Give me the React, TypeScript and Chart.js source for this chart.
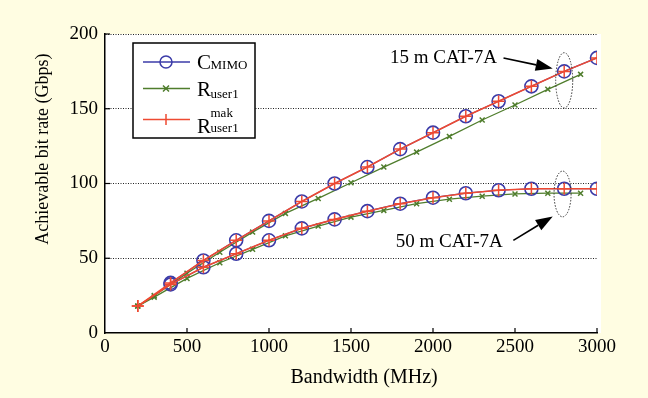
import React, { useEffect, useRef } from "react";
import { Chart, registerables } from "chart.js";

Chart.register(...registerables);

// ---- Data ----
const rmakBandwidth = [200, 400, 600, 800, 1000, 1200, 1400, 1600, 1800, 2000, 2200, 2400, 2600, 2800, 3000];
const rmak15 = [18, 33.5, 48.5, 62, 75, 88, 100, 111, 123, 134, 145, 155, 165, 175, 184];
const rmak50 = [18, 32.5, 44, 53, 62, 70, 76, 81.5, 86.5, 90.5, 93.5, 95.5, 96.5, 96.5, 96.5];

const cmimoBandwidth = [400, 600, 800, 1000, 1200, 1400, 1600, 1800, 2000, 2200, 2400, 2600, 2800, 3000];
const cmimo15 = [33.5, 48.5, 62, 75, 88, 100, 111, 123, 134, 145, 155, 165, 175, 184];
const cmimo50 = [32.5, 44, 53, 62, 70, 76, 81.5, 86.5, 90.5, 93.5, 95.5, 96.5, 96.5, 96.5];

const userBandwidth = [200, 300, 500, 700, 900, 1100, 1300, 1500, 1700, 1900, 2100, 2300, 2500, 2700, 2900];
const user15 = [18, 25, 40, 54, 67.5, 80, 90, 100.5, 111, 121, 131.5, 142.5, 152.5, 163, 173];
const user50 = [18, 24, 36.5, 47, 56, 65, 71.5, 77.5, 82, 86.5, 89.5, 91.5, 93, 93.5, 93.5];

const xTicks = [0, 500, 1000, 1500, 2000, 2500, 3000];
const yTicks = [0, 50, 100, 150, 200];

const xTitle = "Bandwidth (MHz)";
const yTitle = "Achievable bit rate (Gbps)";
const label15 = "15 m CAT-7A";
const label50 = "50 m CAT-7A";

const BLUE = "#3B3BA8";
const RED = "#EE4A32";
const GREEN = "#4F7D2C";
const BG = "#FFFDE2";

const pts = (xs: number[], ys: number[]) => xs.map((x, i) => ({ x, y: ys[i] }));

const SERIF = '"Liberation Serif", "Times New Roman", serif';

const bgPlugin = {
  id: "bgPlugin",
  beforeDraw(chart: any) {
    const { ctx, chartArea: a, width, height } = chart;
    ctx.save();
    ctx.fillStyle = BG;
    ctx.fillRect(0, 0, width, height);
    ctx.fillStyle = "#ffffff";
    ctx.fillRect(a.left, a.top, a.right - a.left + 4, a.bottom - a.top);
    ctx.restore();
  },
};

function arrow(ctx: any, x1: number, y1: number, x2: number, y2: number) {
  const ang = Math.atan2(y2 - y1, x2 - x1);
  const hl = 17;
  const hw = 6;
  const bx = x2 - hl * Math.cos(ang);
  const by = y2 - hl * Math.sin(ang);
  ctx.beginPath();
  ctx.moveTo(x1, y1);
  ctx.lineTo(bx, by);
  ctx.strokeStyle = "#000";
  ctx.lineWidth = 1.6;
  ctx.stroke();
  ctx.beginPath();
  ctx.moveTo(x2, y2);
  ctx.lineTo(bx + hw * Math.sin(ang), by - hw * Math.cos(ang));
  ctx.lineTo(bx - hw * Math.sin(ang), by + hw * Math.cos(ang));
  ctx.closePath();
  ctx.fillStyle = "#000";
  ctx.fill();
}

const overlayPlugin = {
  id: "overlayPlugin",
  afterDraw(chart: any) {
    const { ctx, chartArea: a } = chart;
    const xs = chart.scales.x;
    const ys = chart.scales.y;
    const X = (v: number) => xs.getPixelForValue(v);
    const Y = (v: number) => ys.getPixelForValue(v);
    ctx.save();

    // inward tick marks
    ctx.strokeStyle = "#000";
    ctx.lineWidth = 1.2;
    xTicks.forEach((t) => {
      if (t === 0) return;
      ctx.beginPath();
      ctx.moveTo(X(t), a.bottom);
      ctx.lineTo(X(t), a.bottom - 5);
      ctx.stroke();
    });
    yTicks.forEach((t) => {
      if (t === 0) return;
      ctx.beginPath();
      ctx.moveTo(a.left, Y(t));
      ctx.lineTo(a.left + 5, Y(t));
      ctx.stroke();
    });

    // ellipses
    ctx.setLineDash([1.5, 1.5]);
    ctx.strokeStyle = "#333";
    ctx.lineWidth = 1;
    const ell = (cx: number, cy: number, rx: number, ry: number) => {
      const px = X(cx);
      const py = Y(cy);
      const prx = X(cx + rx) - px;
      const pry = py - Y(cy + ry);
      ctx.beginPath();
      ctx.ellipse(px, py, prx, pry, 0, 0, Math.PI * 2);
      ctx.stroke();
    };
    ell(2800, 169, 52, 18.5);
    ell(2790, 93, 52, 15.3);
    ctx.setLineDash([]);

    // arrows and labels
    arrow(ctx, X(2430), Y(184), X(2730), Y(177));
    arrow(ctx, X(2490), Y(62), X(2730), Y(78));
    ctx.fillStyle = "#000";
    ctx.font = `19px ${SERIF}`;
    ctx.textAlign = "right";
    ctx.textBaseline = "middle";
    ctx.fillText(label15, X(2390), Y(184));
    ctx.fillText(label50, X(2425), Y(61));

    // axis titles
    ctx.textAlign = "center";
    ctx.textBaseline = "middle";
    ctx.font = `20px ${SERIF}`;
    ctx.fillText(xTitle, X(1580), 378);
    ctx.save();
    ctx.translate(43, Y(123));
    ctx.rotate(-Math.PI / 2);
    ctx.font = `18px ${SERIF}`;
    ctx.fillText(yTitle, 0, 0);
    ctx.restore();

    // legend
    const L = a.left + 28;
    const T = a.top + 9;
    ctx.fillStyle = "#fff";
    ctx.fillRect(L, T, 122, 95);
    ctx.strokeStyle = "#000";
    ctx.lineWidth = 1.5;
    ctx.strokeRect(L, T, 122, 95);
    const lx1 = L + 10;
    const lx2 = L + 57;
    const mx = L + 33;
    const tx = L + 64;
    const row = (ly: number, color: string) => {
      ctx.beginPath();
      ctx.moveTo(lx1, ly);
      ctx.lineTo(lx2, ly);
      ctx.strokeStyle = color;
      ctx.lineWidth = 1.5;
      ctx.stroke();
    };
    // row 1: C_MIMO
    let ly = T + 19;
    row(ly, BLUE);
    ctx.beginPath();
    ctx.arc(mx, ly, 6, 0, Math.PI * 2);
    ctx.strokeStyle = BLUE;
    ctx.stroke();
    // row 2: R_user1
    ly = T + 45.5;
    row(ly, GREEN);
    ctx.beginPath();
    ctx.moveTo(mx - 3, ly - 3);
    ctx.lineTo(mx + 3, ly + 3);
    ctx.moveTo(mx - 3, ly + 3);
    ctx.lineTo(mx + 3, ly - 3);
    ctx.strokeStyle = GREEN;
    ctx.stroke();
    // row 3: R^mak_user1
    ly = T + 76.5;
    row(ly, RED);
    ctx.beginPath();
    ctx.moveTo(mx, ly - 5.5);
    ctx.lineTo(mx, ly + 5.5);
    ctx.strokeStyle = RED;
    ctx.stroke();

    ctx.fillStyle = "#000";
    ctx.textAlign = "left";
    ctx.textBaseline = "alphabetic";
    const rich = (base: number, main: string, sub: string, subDy: number, sup?: string) => {
      ctx.font = `21px ${SERIF}`;
      ctx.fillText(main, tx, base);
      const w = ctx.measureText(main).width;
      ctx.font = `13px ${SERIF}`;
      ctx.fillText(sub, tx + w - 0.5, base + subDy);
      if (sup) ctx.fillText(sup, tx + w - 0.5, base - 16.5);
    };
    rich(T + 25.5, "C", "MIMO", 0);
    rich(T + 53, "R", "user1", 2);
    rich(T + 90, "R", "user1", -1, "mak");

    ctx.restore();
  },
};

export default function App() {
  const canvasRef = useRef<HTMLCanvasElement | null>(null);

  useEffect(() => {
    const canvas = canvasRef.current;
    if (!canvas) return;
    const mk = (label: string, data: any[], color: string, style: string, radius: number, bw: number, lw: number) => ({
      label,
      data,
      borderColor: color,
      backgroundColor: "rgba(0,0,0,0)",
      borderWidth: lw,
      pointStyle: style,
      pointRadius: radius,
      pointBorderColor: color,
      pointBackgroundColor: "rgba(0,0,0,0)",
      pointBorderWidth: bw,
      tension: 0,
      fill: false,
    });
    const chart = new Chart(canvas, {
      type: "line",
      data: {
        datasets: [
          mk("R mak 15", pts(rmakBandwidth, rmak15), RED, "cross", 6, 1.5, 1.6),
          mk("R mak 50", pts(rmakBandwidth, rmak50), RED, "cross", 6, 1.5, 1.6),
          mk("C MIMO 15", pts(cmimoBandwidth, cmimo15), BLUE, "circle", 6.5, 1.6, 1.2),
          mk("C MIMO 50", pts(cmimoBandwidth, cmimo50), BLUE, "circle", 6.5, 1.6, 1.2),
          mk("R user1 15", pts(userBandwidth, user15), GREEN, "crossRot", 3.5, 1.5, 1.3),
          mk("R user1 50", pts(userBandwidth, user50), GREEN, "crossRot", 3.5, 1.5, 1.3),
        ],
      },
      options: {
        responsive: false,
        animation: false,
        layout: { padding: { top: 34, right: 51, left: 0, bottom: 0 } },
        plugins: { legend: { display: false }, tooltip: { enabled: false } },
        scales: {
          x: {
            type: "linear",
            min: 0,
            max: 3000,
            afterFit: (s: any) => {
              s.height = 65;
            },
            afterBuildTicks: (s: any) => {
              s.ticks = xTicks.map((v) => ({ value: v }));
            },
            ticks: {
              color: "#000",
              font: { family: "Liberation Serif", size: 19 },
              padding: 3,
              maxRotation: 0,
              callback: (v: any) => String(v),
            },
            grid: { display: true, drawOnChartArea: false, drawTicks: false },
            border: { display: true, color: "#000", width: 1.5 },
            title: { display: false },
          },
          y: {
            type: "linear",
            min: 0,
            max: 200,
            afterFit: (s: any) => {
              s.width = 105;
            },
            afterBuildTicks: (s: any) => {
              s.ticks = yTicks.map((v) => ({ value: v }));
            },
            ticks: {
              color: "#000",
              font: { family: "Liberation Serif", size: 19 },
              padding: 7,
              callback: (v: any) => String(v),
            },
            grid: {
              display: true,
              drawOnChartArea: true,
              drawTicks: false,
              color: (c: any) => (c.tick && c.tick.value === 0 ? "rgba(0,0,0,0)" : "#222"),
              lineWidth: 1,
            },
            border: { display: true, color: "#000", width: 1.5, dash: [1, 1.5] },
            title: { display: false },
          },
        },
      },
      plugins: [bgPlugin, overlayPlugin],
    } as any);
    return () => chart.destroy();
  }, []);

  return (
    <div style={{ position: "absolute", left: 0, top: 0, width: 648, height: 398 }}>
      <canvas ref={canvasRef} width={648} height={398} style={{ display: "block" }} />
    </div>
  );
}
